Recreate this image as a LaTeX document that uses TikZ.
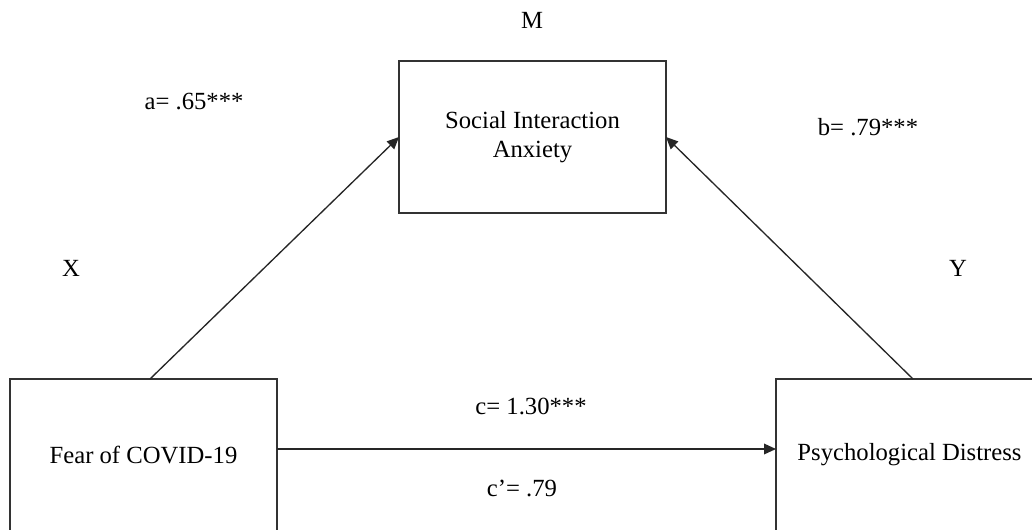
\documentclass[tikz,border=0pt]{standalone}
\usepackage{fontspec}
\setmainfont{Liberation Serif}
\usetikzlibrary{arrows.meta,positioning}
\begin{document}
\begin{tikzpicture}[
    x=0.75pt, y=-0.75pt,
    font=\fontsize{18.5}{22}\selectfont,
    var/.style  ={draw=black!80, line width=1.3pt, minimum width=200.25pt, minimum height=114pt,
                  align=center, outer sep=0pt, anchor=north west},
    coef/.style ={inner sep=0pt},
    arrow/.style={-{Triangle[length=9pt,width=8pt]}, line width=1pt, draw=black!85},
]
% ---------- Page (reference size, boxes run off the edge) ----------
\useasboundingbox (0,0) rectangle (1032,529);
\clip (0,0) rectangle (1032,529);

% ---------- Variables ----------
\node[var] (SIA)  at (399,61)  {Social Interaction\\Anxiety};
\node[var] (FEAR) at (10,379)  {Fear of COVID-19};
\node[var] (PD)   at (776,379) {Psychological Distress};

% ---------- Role labels ----------
\node[coef] (M) at (532,20)  {M};
\node[coef] (X) at (71,268)  {X};
\node[coef] (Y) at (958,268) {Y};

% ---------- Paths ----------
\draw[arrow] ([xshift=105pt]FEAR.north west) -- (SIA.west);
\draw[arrow] ([xshift=102.75pt]PD.north west) -- (SIA.east);
\draw[arrow] ([yshift=4.5pt]FEAR.east) -- ([yshift=4.5pt]PD.west);

% ---------- Coefficients ----------
\node[coef] (A)  at (194,102) {a= .65***};
\node[coef] (B)  at (868,127) {b= .79***};
\node[coef] (C)  at (531,406) {c= 1.30***};
\node[coef] (CP) at (522,488) {c’= .79};

\end{tikzpicture}
\end{document}
